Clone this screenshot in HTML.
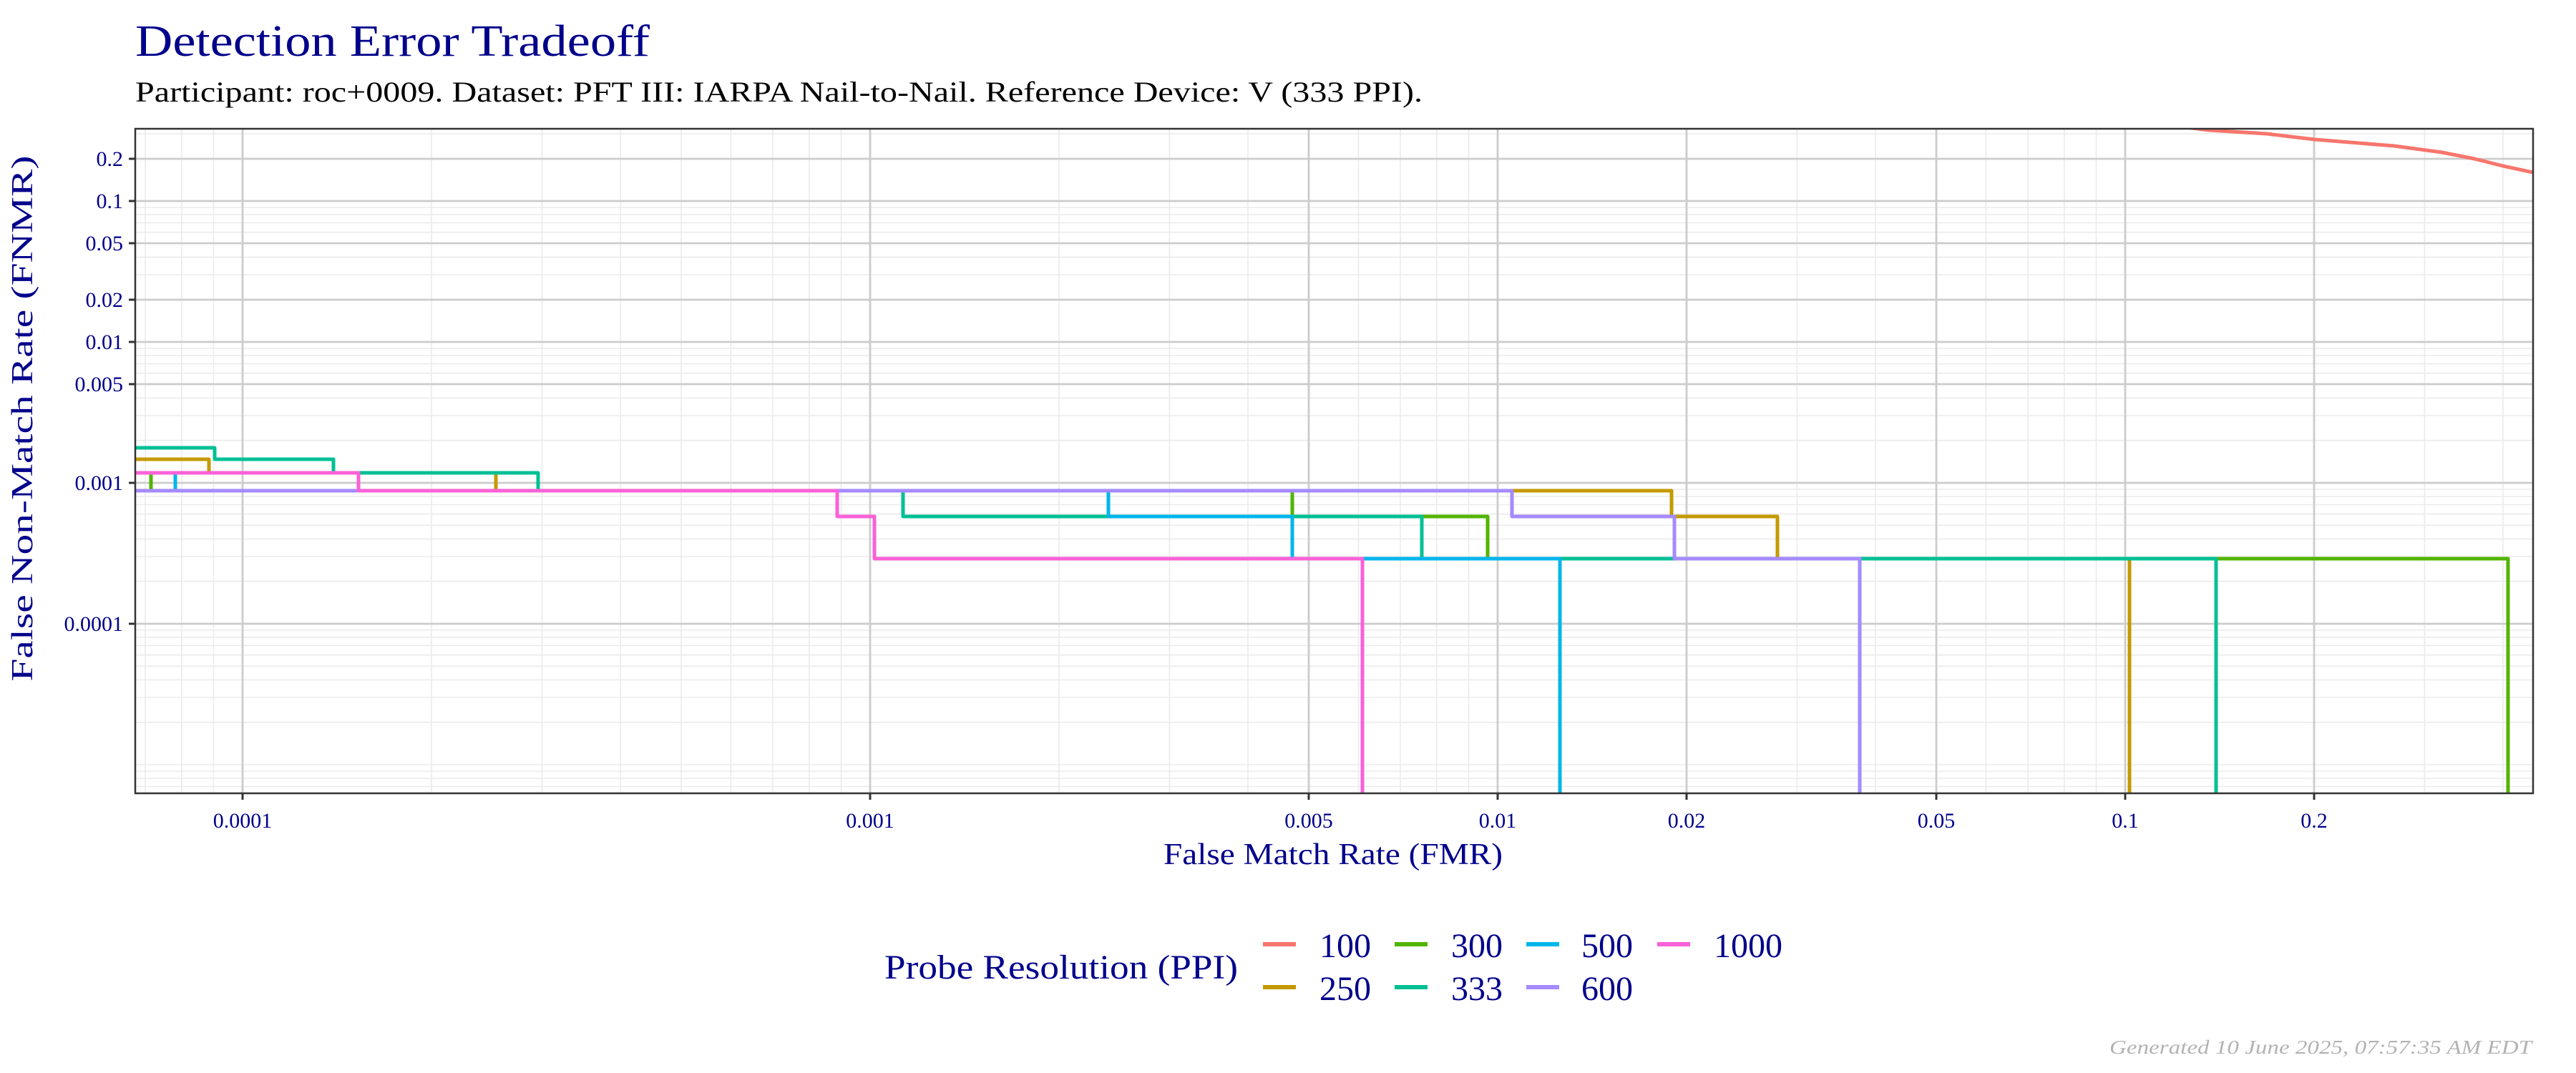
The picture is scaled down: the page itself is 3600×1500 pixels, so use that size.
<!DOCTYPE html>
<html><head><meta charset="utf-8"><style>html,body{margin:0;padding:0;background:#fff}svg{display:block}</style></head><body>
<svg xmlns="http://www.w3.org/2000/svg" width="3600" height="1500" viewBox="0 0 3600 1500" font-family="'Liberation Serif', serif">
<rect width="3600" height="1500" fill="#fff"/>
<text x="189" y="78" font-size="62" fill="#00008B" textLength="719" lengthAdjust="spacingAndGlyphs">Detection Error Tradeoff</text>
<text x="189" y="142" font-size="40" fill="#000" textLength="1799" lengthAdjust="spacingAndGlyphs">Participant: roc+0009. Dataset: PFT III: IARPA Nail-to-Nail. Reference Device: V (333 PPI).</text>
<defs><clipPath id="pc"><rect x="189" y="180" width="3351" height="929"/></clipPath></defs>
<g stroke="#ebebeb" stroke-width="1.6">
<line x1="189" x2="3540" y1="187" y2="187"/><line x1="189" x2="3540" y1="384" y2="384"/><line x1="189" x2="3540" y1="359.4" y2="359.4"/><line x1="189" x2="3540" y1="324.7" y2="324.7"/><line x1="189" x2="3540" y1="311.5" y2="311.5"/><line x1="189" x2="3540" y1="300.1" y2="300.1"/><line x1="189" x2="3540" y1="290" y2="290"/>
<line x1="189" x2="3540" y1="615.7" y2="615.7"/><line x1="189" x2="3540" y1="581" y2="581"/><line x1="189" x2="3540" y1="556.4" y2="556.4"/><line x1="189" x2="3540" y1="521.7" y2="521.7"/><line x1="189" x2="3540" y1="508.5" y2="508.5"/><line x1="189" x2="3540" y1="497.1" y2="497.1"/><line x1="189" x2="3540" y1="487" y2="487"/>
<line x1="189" x2="3540" y1="812.7" y2="812.7"/><line x1="189" x2="3540" y1="778" y2="778"/><line x1="189" x2="3540" y1="753.4" y2="753.4"/><line x1="189" x2="3540" y1="734.3" y2="734.3"/><line x1="189" x2="3540" y1="718.7" y2="718.7"/><line x1="189" x2="3540" y1="705.5" y2="705.5"/><line x1="189" x2="3540" y1="694.1" y2="694.1"/><line x1="189" x2="3540" y1="684" y2="684"/>
<line x1="189" x2="3540" y1="1069" y2="1069"/><line x1="189" x2="3540" y1="1009.7" y2="1009.7"/><line x1="189" x2="3540" y1="975" y2="975"/><line x1="189" x2="3540" y1="950.4" y2="950.4"/><line x1="189" x2="3540" y1="931.3" y2="931.3"/><line x1="189" x2="3540" y1="915.7" y2="915.7"/><line x1="189" x2="3540" y1="902.5" y2="902.5"/><line x1="189" x2="3540" y1="891.1" y2="891.1"/><line x1="189" x2="3540" y1="881" y2="881"/>
<line x1="189" x2="3540" y1="1078" y2="1078"/><line x1="189" x2="3540" y1="1088" y2="1088"/><line x1="189" x2="3540" y1="1099.5" y2="1099.5"/>
<line y1="180" y2="1109" x1="203" x2="203"/><line y1="180" y2="1109" x1="254" x2="254"/><line y1="180" y2="1109" x1="298.5" x2="298.5"/>
<line y1="180" y2="1109" x1="603" x2="603"/><line y1="180" y2="1109" x1="757.4" x2="757.4"/><line y1="180" y2="1109" x1="867" x2="867"/><line y1="180" y2="1109" x1="952" x2="952"/><line y1="180" y2="1109" x1="1021.4" x2="1021.4"/><line y1="180" y2="1109" x1="1080" x2="1080"/><line y1="180" y2="1109" x1="1130.9" x2="1130.9"/><line y1="180" y2="1109" x1="1175.5" x2="1175.5"/>
<line y1="180" y2="1109" x1="1480" x2="1480"/><line y1="180" y2="1109" x1="1634.4" x2="1634.4"/><line y1="180" y2="1109" x1="1744" x2="1744"/><line y1="180" y2="1109" x1="1898.4" x2="1898.4"/><line y1="180" y2="1109" x1="1957" x2="1957"/><line y1="180" y2="1109" x1="2007.9" x2="2007.9"/><line y1="180" y2="1109" x1="2052.5" x2="2052.5"/>
<line y1="180" y2="1109" x1="2511.4" x2="2511.4"/><line y1="180" y2="1109" x1="2621" x2="2621"/><line y1="180" y2="1109" x1="2775.4" x2="2775.4"/><line y1="180" y2="1109" x1="2834" x2="2834"/><line y1="180" y2="1109" x1="2884.9" x2="2884.9"/><line y1="180" y2="1109" x1="2929.5" x2="2929.5"/>
<line y1="180" y2="1109" x1="3388.4" x2="3388.4"/><line y1="180" y2="1109" x1="3498" x2="3498"/>
</g>
<g stroke="#cccccc" stroke-width="2.8">
<line x1="189" x2="3540" y1="222" y2="222"/><line x1="189" x2="3540" y1="281" y2="281"/><line x1="189" x2="3540" y1="340" y2="340"/><line x1="189" x2="3540" y1="419" y2="419"/><line x1="189" x2="3540" y1="478" y2="478"/><line x1="189" x2="3540" y1="537" y2="537"/><line x1="189" x2="3540" y1="675" y2="675"/><line x1="189" x2="3540" y1="872" y2="872"/>
<line y1="180" y2="1109" x1="339" x2="339"/><line y1="180" y2="1109" x1="1216" x2="1216"/><line y1="180" y2="1109" x1="1829" x2="1829"/><line y1="180" y2="1109" x1="2093" x2="2093"/><line y1="180" y2="1109" x1="2357" x2="2357"/><line y1="180" y2="1109" x1="2706" x2="2706"/><line y1="180" y2="1109" x1="2970" x2="2970"/><line y1="180" y2="1109" x1="3234" x2="3234"/>
</g>
<g clip-path="url(#pc)" fill="none" stroke-width="5" stroke-linejoin="round">
<polyline stroke="#F8766D" points="3000,170 3040,176 3087,182 3168,187 3235,195 3346,204 3413,213 3458,222 3498,232 3540,241"/>
<path stroke="#C49A00" d="M189,642 H292 V661 H693 V686 H2336 V722 H2484 V781 H2976 V1112"/>
<path stroke="#53B400" d="M189,661 H211 V686 H1806 V722 H2079 V781 H3505 V1112"/>
<path stroke="#00C094" d="M189,626 H300 V642 H466 V661 H752 V686 H1262 V722 H1987 V781 H3097 V1112"/>
<path stroke="#00B6EB" d="M189,661 H245 V686 H1549 V722 H1806 V781 H2180 V1112"/>
<path stroke="#A58AFF" d="M189,686 H2113 V722 H2340 V781 H2599 V1112"/>
<path stroke="#FB61D7" d="M189,661 H501 V686 H1170 V722 H1222 V781 H1904 V1112"/>
</g>
<rect x="189" y="180" width="3351" height="929" fill="none" stroke="#333" stroke-width="2.5"/>
<g stroke="#333" stroke-width="3">
<line x1="180" x2="189" y1="222" y2="222"/><line x1="180" x2="189" y1="281" y2="281"/><line x1="180" x2="189" y1="340" y2="340"/><line x1="180" x2="189" y1="419" y2="419"/><line x1="180" x2="189" y1="478" y2="478"/><line x1="180" x2="189" y1="537" y2="537"/><line x1="180" x2="189" y1="675" y2="675"/><line x1="180" x2="189" y1="872" y2="872"/>
<line y1="1109" y2="1118" x1="339" x2="339"/><line y1="1109" y2="1118" x1="1216" x2="1216"/><line y1="1109" y2="1118" x1="1829" x2="1829"/><line y1="1109" y2="1118" x1="2093" x2="2093"/><line y1="1109" y2="1118" x1="2357" x2="2357"/><line y1="1109" y2="1118" x1="2706" x2="2706"/><line y1="1109" y2="1118" x1="2970" x2="2970"/><line y1="1109" y2="1118" x1="3234" x2="3234"/>
</g>
<g font-size="30" fill="#00008B" text-anchor="end">
<text x="172" y="232">0.2</text><text x="172" y="291">0.1</text><text x="172" y="350">0.05</text><text x="172" y="429">0.02</text><text x="172" y="488">0.01</text><text x="172" y="547">0.005</text><text x="172" y="685">0.001</text><text x="172" y="882">0.0001</text>
</g>
<g font-size="30" fill="#00008B" text-anchor="middle">
<text x="339" y="1157">0.0001</text><text x="1216" y="1157">0.001</text><text x="1829" y="1157">0.005</text><text x="2093" y="1157">0.01</text><text x="2357" y="1157">0.02</text><text x="2706" y="1157">0.05</text><text x="2970" y="1157">0.1</text><text x="3234" y="1157">0.2</text>
</g>
<text x="1863" y="1208" font-size="42" fill="#00008B" text-anchor="middle" textLength="474" lengthAdjust="spacingAndGlyphs">False Match Rate (FMR)</text>
<text transform="translate(45,585) rotate(-90)" font-size="42" fill="#00008B" text-anchor="middle" textLength="735" lengthAdjust="spacingAndGlyphs">False Non-Match Rate (FNMR)</text>
<text x="1236" y="1368" font-size="48" fill="#00008B" textLength="494" lengthAdjust="spacingAndGlyphs">Probe Resolution (PPI)</text>
<g stroke-width="6">
<line x1="1765" x2="1811" y1="1320" y2="1320" stroke="#F8766D"/>
<line x1="1765" x2="1811" y1="1380" y2="1380" stroke="#C49A00"/>
<line x1="1949" x2="1995" y1="1320" y2="1320" stroke="#53B400"/>
<line x1="1949" x2="1995" y1="1380" y2="1380" stroke="#00C094"/>
<line x1="2133" x2="2179" y1="1320" y2="1320" stroke="#00B6EB"/>
<line x1="2133" x2="2179" y1="1380" y2="1380" stroke="#A58AFF"/>
<line x1="2316" x2="2362" y1="1320" y2="1320" stroke="#FB61D7"/>
</g>
<g font-size="48" fill="#00008B">
<text x="1844" y="1338">100</text><text x="1844" y="1398">250</text>
<text x="2028" y="1338">300</text><text x="2028" y="1398">333</text>
<text x="2210" y="1338">500</text><text x="2210" y="1398">600</text>
<text x="2395" y="1338">1000</text>
</g>
<text x="3538" y="1473" font-size="27" font-style="italic" fill="#b3b3b3" text-anchor="end" textLength="590" lengthAdjust="spacingAndGlyphs">Generated 10 June 2025, 07:57:35 AM EDT</text>
</svg>
</body></html>
